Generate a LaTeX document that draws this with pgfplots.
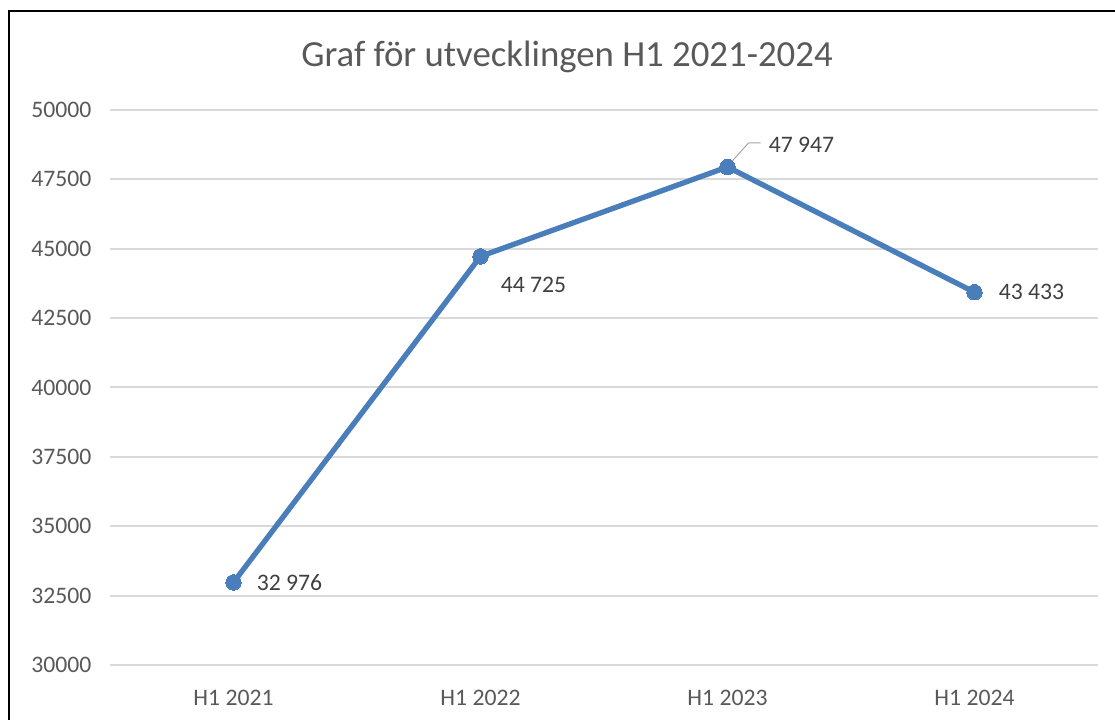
\documentclass[border=0pt]{standalone}
\usepackage{pgfplots}
\pgfplotsset{compat=1.18}
\usepackage{fontspec}
\setmainfont{Carlito}
\definecolor{lineblue}{RGB}{74,126,187}
\definecolor{gridgray}{RGB}{217,217,217}
\definecolor{ticktext}{RGB}{89,89,89}
\definecolor{labeltext}{RGB}{64,64,64}
\definecolor{leadergray}{RGB}{166,166,166}
\begin{document}
\begin{tikzpicture}
\path[use as bounding box] (0pt,0pt) rectangle (836.25pt,540pt);
\draw[black, line width=1.5pt] (6.75pt,-15pt) -- (6.75pt,531.75pt) -- (855pt,531.75pt);
\node[text=ticktext, font=\fontsize{27.6}{33}\selectfont, anchor=base, inner sep=0pt] at (425.25pt,489.75pt) {Graf för utvecklingen H1 2021-2024};
\begin{axis}[at={(82.5pt,41.25pt)}, anchor=south west, scale only axis,
  width=741pt, height=416.25pt,
  xmin=-0.5, xmax=3.5, ymin=30000, ymax=50000,
  ytick={30000,32500,35000,37500,40000,42500,45000,47500,50000},
  xtick={0,1,2,3}, xticklabels={H1 2021,H1 2022,H1 2023,H1 2024},
  axis line style={draw=none}, major tick length=0pt,
  ymajorgrids, grid style={gridgray, line width=1.5pt},
  tick label style={text=ticktext, font=\fontsize{17.75}{21}\selectfont},
  xticklabel style={yshift=-15.4pt},
  yticklabel style={xshift=-10.5pt},
  /pgf/number format/assume math mode=true,
  /pgf/number format/1000 sep={},
  scaled y ticks=false,
  clip=false]
\addplot[lineblue, line width=4pt, mark=*, mark size=5.8pt,
  mark options={fill=lineblue, draw=lineblue, line width=0pt}]
  coordinates {(0,32976) (1,44725) (2,47947) (3,43433)};
\draw[leadergray, line width=0.75pt] ([shift={(2.25pt,3pt)}]axis cs:2,47947) -- ([shift={(15.75pt,18pt)}]axis cs:2,47947) -- ([shift={(24.75pt,18pt)}]axis cs:2,47947);
\begin{scope}[every node/.style={text=labeltext, font=\fontsize{17.75}{21}\selectfont, anchor=west, inner sep=0pt}]
\node[xshift=17.25pt, yshift=0pt] at (axis cs:0,32976) {32 976};
\node[xshift=15pt, yshift=-21.75pt] at (axis cs:1,44725) {44 725};
\node[xshift=30.75pt, yshift=16.9pt] at (axis cs:2,47947) {47 947};
\node[xshift=18pt, yshift=0pt] at (axis cs:3,43433) {43 433};
\end{scope}
\end{axis}
\end{tikzpicture}
\end{document}
